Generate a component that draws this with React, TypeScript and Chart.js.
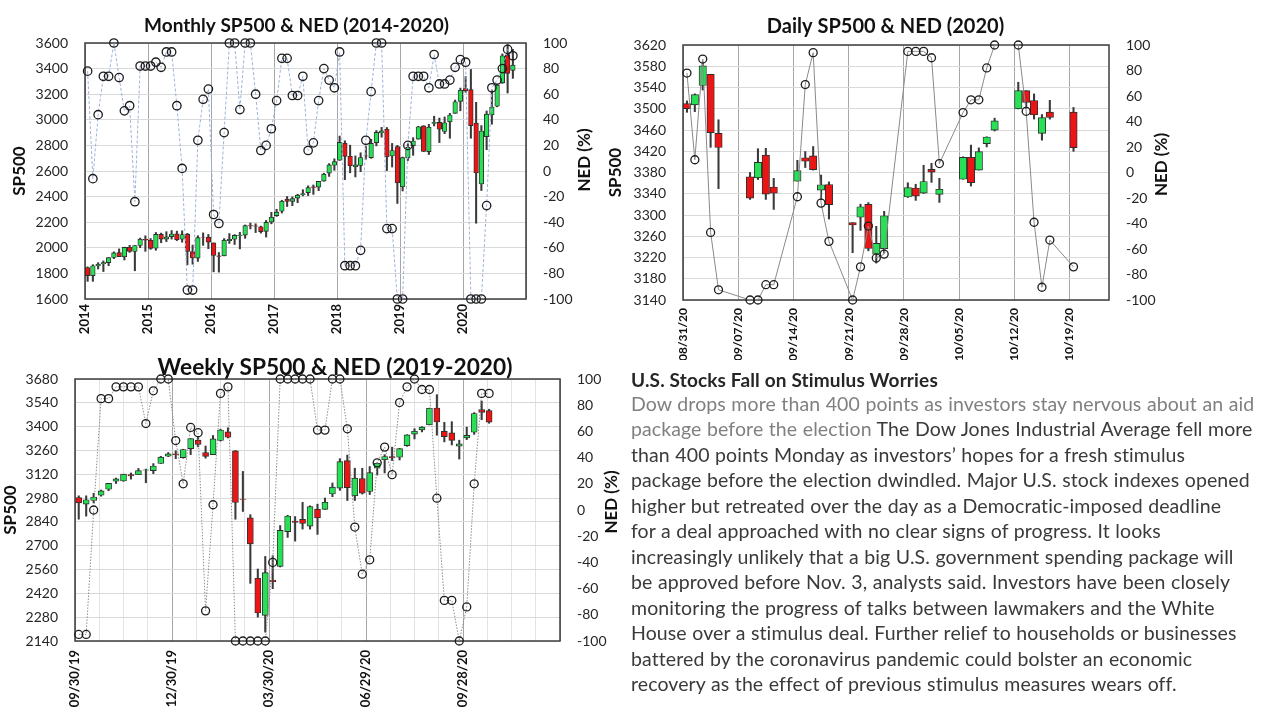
import React, { useEffect, useRef } from "react";
import { Chart, registerables } from "chart.js";

Chart.register(...registerables);

const FONT = "Lato, 'Open Sans', sans-serif";
const UP = "#27e055";
const DOWN = "#ec1515";
const EDGE = "#2e2e2e";

// ---------------- Monthly SP500 & NED (Jan 2014 - Oct 2020) ----------------
const monthlyYearLabels = ["2014", "2015", "2016", "2017", "2018", "2019", "2020"];
const monthlyOpen = [
  1845.9, 1782.7, 1857.7, 1874.0, 1884.7, 1923.9, 1962.3, 1929.8, 2004.1, 1971.4, 2018.2, 2065.8,
  2058.9, 1996.7, 2105.2, 2067.6, 2087.4, 2108.6, 2067.0, 2104.5, 1970.1, 1919.7, 2080.8, 2082.9,
  2038.2, 1936.9, 1937.1, 2056.6, 2067.2, 2093.9, 2099.3, 2173.2, 2171.3, 2164.3, 2128.7, 2200.2,
  2251.6, 2285.6, 2380.1, 2362.3, 2388.5, 2415.6, 2431.4, 2477.1, 2474.4, 2521.2, 2583.2, 2645.1,
  2683.7, 2816.5, 2715.2, 2633.5, 2643.0, 2718.7, 2705.0, 2821.2, 2897.0, 2926.3, 2717.6, 2790.5,
  2477.0, 2702.3, 2798.2, 2848.6, 2952.3, 2751.5, 2971.4, 2980.3, 2909.0, 2983.7, 3050.7, 3143.9,
  3244.7, 3235.7, 2974.3, 2498.1, 2869.1, 3038.8, 3105.9, 3288.3, 3507.4, 3385.9,
];
const monthlyHigh = [
  1850.8, 1867.9, 1884.0, 1897.3, 1924.0, 1968.2, 1991.4, 2005.0, 2019.3, 2018.2, 2075.8, 2093.6,
  2072.4, 2119.6, 2114.9, 2125.9, 2134.7, 2129.9, 2132.8, 2112.7, 2021.0, 2094.3, 2116.5, 2104.3,
  2038.2, 1963.0, 2072.2, 2111.0, 2103.5, 2120.6, 2178.3, 2193.8, 2187.9, 2169.6, 2214.1, 2277.5,
  2301.0, 2371.5, 2401.0, 2398.2, 2418.7, 2453.8, 2484.0, 2490.9, 2519.4, 2583.0, 2657.7, 2695.0,
  2872.9, 2836.0, 2801.9, 2717.5, 2742.2, 2791.5, 2848.0, 2916.5, 2940.9, 2939.9, 2815.2, 2800.2,
  2709.0, 2813.5, 2860.3, 2949.5, 2954.1, 2964.2, 3028.0, 3013.6, 3022.0, 3050.1, 3154.3, 3247.9,
  3337.8, 3393.5, 3136.7, 2954.9, 3068.7, 3233.1, 3280.0, 3514.8, 3588.1, 3549.9,
];
const monthlyLow = [
  1737.9, 1737.9, 1834.4, 1814.4, 1859.8, 1915.0, 1930.7, 1904.8, 1964.0, 1820.7, 2001.0, 1972.6,
  1988.1, 1980.9, 2039.7, 2048.4, 2067.9, 2056.3, 2044.0, 1867.0, 1871.9, 1893.7, 2019.4, 1993.3,
  1812.3, 1810.1, 1937.1, 2033.8, 2025.9, 1991.7, 2074.0, 2147.6, 2119.1, 2114.7, 2083.8, 2187.4,
  2245.1, 2271.7, 2322.3, 2329.0, 2352.7, 2405.7, 2407.7, 2417.4, 2446.6, 2520.4, 2557.5, 2605.5,
  2682.4, 2532.7, 2585.9, 2553.8, 2594.6, 2692.0, 2699.0, 2796.3, 2864.1, 2603.5, 2631.1, 2346.6,
  2444.0, 2681.8, 2722.3, 2848.6, 2750.5, 2728.8, 2952.2, 2822.1, 2891.9, 2855.9, 3050.7, 3070.3,
  3214.6, 2855.8, 2191.9, 2447.5, 2766.6, 2965.7, 3101.2, 3284.5, 3209.5, 3323.7,
];
const monthlyClose = [
  1782.6, 1859.5, 1872.3, 1884.0, 1923.6, 1960.2, 1930.7, 2003.4, 1972.3, 2018.1, 2067.6, 2058.9,
  1995.0, 2104.5, 2067.9, 2085.5, 2107.4, 2063.1, 2103.8, 1972.2, 1920.0, 2079.4, 2080.4, 2043.9,
  1940.2, 1932.2, 2059.7, 2065.3, 2097.0, 2098.9, 2173.6, 2171.0, 2168.3, 2126.2, 2198.8, 2238.8,
  2278.9, 2363.6, 2362.7, 2384.2, 2411.8, 2423.4, 2470.3, 2471.7, 2519.4, 2575.3, 2647.6, 2673.6,
  2823.8, 2713.8, 2640.9, 2648.1, 2705.3, 2718.4, 2816.3, 2901.5, 2914.0, 2711.7, 2760.2, 2506.9,
  2704.1, 2784.5, 2834.4, 2945.8, 2752.1, 2941.8, 2980.4, 2926.5, 2976.7, 3037.6, 3141.0, 3230.8,
  3225.5, 2954.2, 2584.6, 2912.4, 3044.3, 3100.3, 3271.1, 3500.3, 3363.0, 3426.9,
];
const monthlyNed = [
  78, -6, 44, 74, 74, 100, 73, 47, 51, -24, 82, 82,
  82, 85, 81, 93, 93, 51, 2, -93, -93, 24, 56, 64,
  -34, -41, 30, 100, 100, 48, 100, 100, 60, 16, 20, 33,
  55, 88, 88, 59, 59, 74, 16, 22, 55, 80, 71, 65,
  93, -74, -74, -74, -62, 24, 62, 100, 100, -45, -45, -100,
  -100, 20, 74, 74, 74, 65, 91, 68, 68, 71, 81, 87,
  85, -100, -100, -100, -27, 65, 71, 80, 95, 90,
];

// ---------------- Daily SP500 & NED (2020) ----------------
const dailyTickLabels = ["08/31/20", "09/07/20", "09/14/20", "09/21/20", "09/28/20", "10/05/20", "10/12/20", "10/19/20"];
const dailyStart = "2020-08-31";
const dailyDates = [
  "2020-08-31", "2020-09-01", "2020-09-02", "2020-09-03", "2020-09-04",
  "2020-09-08", "2020-09-09", "2020-09-10", "2020-09-11",
  "2020-09-14", "2020-09-15", "2020-09-16", "2020-09-17", "2020-09-18",
  "2020-09-21", "2020-09-22", "2020-09-23", "2020-09-24", "2020-09-25",
  "2020-09-28", "2020-09-29", "2020-09-30", "2020-10-01", "2020-10-02",
  "2020-10-05", "2020-10-06", "2020-10-07", "2020-10-08", "2020-10-09",
  "2020-10-12", "2020-10-13", "2020-10-14", "2020-10-15", "2020-10-16",
  "2020-10-19",
];
const dailyOpen = [
  3509.7, 3507.4, 3543.8, 3564.7, 3453.6, 3371.9, 3369.8, 3412.6, 3352.7, 3363.6, 3407.7, 3411.2,
  3346.9, 3357.4, 3285.6, 3295.8, 3320.1, 3226.1, 3236.7, 3333.9, 3350.9, 3341.2, 3385.9, 3338.9,
  3367.3, 3408.7, 3384.6, 3434.3, 3459.7, 3500.0, 3534.0, 3515.5, 3453.7, 3493.5, 3493.7,
];
const dailyHigh = [
  3514.8, 3528.0, 3588.1, 3564.9, 3479.2, 3380.0, 3424.8, 3425.6, 3369.0, 3402.9, 3419.5, 3428.9,
  3375.2, 3362.3, 3285.6, 3320.3, 3323.4, 3278.7, 3306.9, 3360.7, 3357.9, 3393.6, 3397.2, 3369.1,
  3409.6, 3431.6, 3426.3, 3447.3, 3482.3, 3549.9, 3534.0, 3527.9, 3489.1, 3515.8, 3502.4,
];
const dailyLow = [
  3493.3, 3494.6, 3535.2, 3427.4, 3349.6, 3329.3, 3366.8, 3329.3, 3310.5, 3363.6, 3389.3, 3384.5,
  3328.8, 3292.4, 3229.1, 3271.0, 3232.6, 3209.5, 3228.4, 3332.9, 3327.5, 3340.5, 3361.4, 3323.7,
  3367.3, 3354.5, 3384.6, 3428.2, 3458.1, 3499.6, 3500.9, 3480.6, 3440.9, 3480.5, 3419.9,
];
const dailyClose = [
  3500.3, 3526.7, 3580.8, 3455.1, 3427.0, 3331.8, 3399.0, 3339.2, 3341.0, 3383.5, 3401.2, 3385.5,
  3357.0, 3319.5, 3281.1, 3315.6, 3236.9, 3246.6, 3298.5, 3351.6, 3335.5, 3363.0, 3380.8, 3348.4,
  3408.6, 3361.0, 3419.4, 3446.8, 3477.1, 3534.2, 3511.9, 3488.7, 3483.3, 3483.8, 3426.9,
];
const dailyNed = [
  78, 10, 89, -47, -92, -100, -100, -88, -88, -19, 69, 94,
  -24, -54, -100, -74, -42, -67, -64, 95, 95, 95, 90, 7,
  47, 57, 57, 82, 100, 100, 48, -39, -90, -53, -74,
];

// ---------------- Weekly SP500 & NED (2019-2020), weeks from 09/30/19 ----------------
const weeklyTickLabels = ["09/30/19", "12/30/19", "03/30/20", "06/29/20", "09/28/20"];
const weeklyOpen = [
  2983.5, 2944.2, 2965.8, 2996.5, 3032.1, 3079.0, 3080.3, 3117.9, 3117.4, 3143.9, 3141.9, 3183.6,
  3226.0, 3240.1, 3217.6, 3271.1, 3321.0, 3247.2, 3235.7, 3318.3, 3369.0, 3257.6, 2974.3, 2863.9,
  2508.6, 2290.7, 2498.1, 2578.3, 2782.5, 2845.6, 2854.7, 2815.0, 2915.5, 2913.9, 3004.1, 3038.8,
  3199.9, 2993.8, 3094.4, 3018.6, 3155.3, 3205.1, 3224.3, 3219.8, 3288.3, 3356.0, 3380.9, 3411.1,
  3509.7, 3371.9, 3363.6, 3285.6, 3333.9, 3367.3, 3500.0, 3493.7,
];
const weeklyHigh = [
  2993.3, 2993.3, 3008.3, 3027.4, 3067.0, 3097.8, 3120.5, 3127.6, 3154.3, 3150.6, 3182.7, 3225.6,
  3247.9, 3258.1, 3267.1, 3329.9, 3337.8, 3285.9, 3348.0, 3385.1, 3393.5, 3259.8, 3136.7, 2882.6,
  2563.0, 2637.0, 2641.4, 2818.6, 2879.2, 2871.6, 2954.9, 2934.6, 2944.3, 2980.3, 3068.7, 3211.7,
  3233.1, 3155.5, 3155.5, 3165.8, 3186.8, 3235.3, 3279.3, 3272.0, 3352.5, 3387.9, 3400.0, 3509.2,
  3588.1, 3425.6, 3429.0, 3320.3, 3397.2, 3482.3, 3549.9, 3502.4,
];
const weeklyLow = [
  2856.0, 2873.9, 2952.1, 2991.2, 3023.2, 3065.9, 3078.3, 3091.4, 3117.4, 3070.3, 3123.9, 3183.6,
  3223.3, 3212.0, 3214.6, 3235.5, 3281.5, 3214.6, 3235.7, 3315.2, 3333.6, 2855.8, 2901.5, 2478.9,
  2280.5, 2191.9, 2447.5, 2575.0, 2749.0, 2727.1, 2797.9, 2797.5, 2766.6, 2913.9, 2988.2, 3025.2,
  2965.7, 2965.7, 3003.5, 3000.9, 3115.7, 3127.7, 3200.7, 3204.1, 3284.5, 3327.7, 3369.1, 3410.0,
  3349.6, 3310.5, 3292.4, 3209.5, 3323.7, 3354.5, 3440.9, 3419.9,
];
const weeklyClose = [
  2952.0, 2970.3, 2986.2, 3022.6, 3066.9, 3093.1, 3120.5, 3110.3, 3141.0, 3145.9, 3168.8, 3221.2,
  3240.0, 3234.9, 3265.4, 3329.6, 3295.5, 3225.5, 3327.7, 3380.2, 3337.8, 2954.2, 2972.4, 2711.0,
  2304.9, 2541.5, 2488.7, 2789.8, 2874.6, 2836.7, 2830.7, 2929.8, 2863.7, 2955.5, 3044.3, 3193.9,
  3041.3, 3097.7, 3009.0, 3130.0, 3185.0, 3224.7, 3215.6, 3271.1, 3351.3, 3372.9, 3397.2, 3508.0,
  3427.0, 3341.0, 3319.5, 3298.5, 3348.4, 3477.1, 3483.8, 3426.9,
];
const weeklyNed = [
  -95, -95, 0, 85, 85, 94, 94, 94, 94, 66, 91, 100,
  100, 53, 20, 63, 59, -77, 4, 89, 94, -100, -100, -100,
  -100, -100, -40, 100, 100, 100, 100, 100, 61, 61, 100, 100,
  62, -13, -49, -38, 36, 48, 27, 82, 94, 100, 92, 92,
  9, -69, -69, -100, -74, 20, 89, 89,
];

// ---------------- Article ----------------
const articleTitle = "U.S. Stocks Fall on Stimulus Worries";
const articleLines: { gray?: string; text?: string }[] = [
  { gray: "Dow drops more than 400 points as investors stay nervous about an aid" },
  { gray: "package before the election", text: " The Dow Jones Industrial Average fell more" },
  { text: "than 400 points Monday as investors\u2019 hopes for a fresh stimulus" },
  { text: "package before the election dwindled. Major U.S. stock indexes opened" },
  { text: "higher but retreated over the day as a Democratic-imposed deadline" },
  { text: "for a deal approached with no clear signs of progress. It looks" },
  { text: "increasingly unlikely that a big U.S. government spending package will" },
  { text: "be approved before Nov. 3, analysts said. Investors have been closely" },
  { text: "monitoring the progress of talks between lawmakers and the White" },
  { text: "House over a stimulus deal. Further relief to households or businesses" },
  { text: "battered by the coronavirus pandemic could bolster an economic" },
  { text: "recovery as the effect of previous stimulus measures wears off." },
];

// ---------------- helpers ----------------
const framePlugin = {
  id: "plotFrame",
  beforeDatasetsDraw(chart: any) {
    const { ctx, chartArea: a } = chart;
    ctx.save();
    ctx.strokeStyle = "#3c3c3c";
    ctx.lineWidth = 1.5;
    ctx.strokeRect(a.left, a.top, a.right - a.left, a.bottom - a.top);
    ctx.restore();
  },
};

function rightTitlePlugin(text: string, dx: number, dy: number, size: number) {
  return {
    id: "rightTitle",
    afterDraw(chart: any) {
      const { ctx, chartArea: a } = chart;
      ctx.save();
      ctx.translate(a.right + dx, (a.top + a.bottom) / 2 + dy);
      ctx.rotate(-Math.PI / 2);
      ctx.font = `bold ${size}px ${FONT}`;
      ctx.fillStyle = "#111";
      ctx.textAlign = "center";
      ctx.textBaseline = "middle";
      ctx.fillText(text, 0, 0);
      ctx.restore();
    },
  };
}

type Panel = {
  title: string;
  titleSize: number;
  titlePad: { top: number; bottom: number };
  xs: number[];
  open: number[];
  high: number[];
  low: number[];
  close: number[];
  ned: number[];
  bodyW: number;
  xMin: number;
  xMax: number;
  xStep: number;
  majorEvery: number;
  tickLabels: string[];
  xFontSize: number;
  xPad: number;
  majorGrid: string;
  minorGrid: string;
  yMin: number;
  yMax: number;
  yStep: number;
  leftW: number;
  rightW: number;
  bottomH: number;
  leftTitlePad: number;
  rightDx: number;
  rightDy: number;
  lineColor: string;
  lineDash: number[];
  pointR: number;
};

function buildConfig(p: Panel): any {
  const wicks = p.xs.map((x, i) => ({ x, y: [p.low[i], p.high[i]] }));
  const bodies = p.xs.map((x, i) => ({ x, y: [p.open[i], p.close[i]] }));
  const colors = p.xs.map((_, i) => (p.close[i] >= p.open[i] ? UP : DOWN));
  const nedPts = p.xs.map((x, i) => ({ x, y: p.ned[i] }));
  const isMajor = (v: number) => Math.abs(v / p.majorEvery - Math.round(v / p.majorEvery)) < 1e-6;
  return {
    type: "bar",
    data: {
      datasets: [
        {
          type: "line",
          data: nedPts,
          yAxisID: "y1",
          xAxisID: "x",
          borderColor: p.lineColor,
          borderWidth: 1,
          borderDash: p.lineDash,
          pointRadius: p.pointR,
          pointBorderWidth: 1.3,
          pointBorderColor: "#1c1c1c",
          pointBackgroundColor: "rgba(0,0,0,0)",
          tension: 0,
          clip: false,
          order: 0,
        },
        {
          data: bodies,
          yAxisID: "y",
          backgroundColor: colors,
          borderColor: EDGE,
          borderWidth: 0.9,
          borderSkipped: false,
          barThickness: p.bodyW,
          grouped: false,
          order: 1,
        },
        {
          data: wicks,
          yAxisID: "y",
          backgroundColor: "#3a3a3a",
          borderWidth: 0,
          barThickness: 1.4,
          grouped: false,
          order: 2,
        },
      ],
    },
    options: {
      responsive: false,
      animation: false,
      devicePixelRatio: 1,
      events: [],
      layout: { padding: 0 },
      plugins: {
        legend: { display: false },
        tooltip: { enabled: false },
        title: {
          display: true,
          text: p.title,
          color: "#111",
          font: { size: p.titleSize, weight: "bold", family: FONT },
          padding: p.titlePad,
        },
      },
      scales: {
        x: {
          type: "linear",
          min: p.xMin,
          max: p.xMax,
          offset: false,
          grid: {
            offset: false,
            drawTicks: false,
            color: (c: any) => (c.tick && isMajor(c.tick.value) ? p.majorGrid : p.minorGrid),
            lineWidth: 1,
          },
          border: { display: false },
          ticks: {
            stepSize: p.xStep,
            autoSkip: false,
            includeBounds: false,
            maxRotation: 90,
            minRotation: 90,
            padding: p.xPad,
            color: "#111",
            font: { size: p.xFontSize, weight: "bold", family: FONT },
            callback: (v: number) => {
              if (!isMajor(v)) return "";
              return p.tickLabels[Math.round(v / p.majorEvery)] ?? "";
            },
          },
          afterFit: (s: any) => {
            s.height = p.bottomH;
          },
        },
        y: {
          type: "linear",
          position: "left",
          min: p.yMin,
          max: p.yMax,
          grid: { color: "#d9d9d9", drawTicks: false },
          border: { display: false },
          ticks: {
            stepSize: p.yStep,
            padding: 17,
            color: "#262626",
            font: { size: 14, family: FONT },
            callback: (v: number) => String(v),
          },
          title: {
            display: true,
            text: "SP500",
            color: "#111",
            font: { size: 17, weight: "bold", family: FONT },
            padding: { top: p.leftTitlePad, bottom: 0 },
          },
          afterFit: (s: any) => {
            s.width = p.leftW;
          },
        },
        y1: {
          type: "linear",
          position: "right",
          min: -100,
          max: 100,
          grid: { drawOnChartArea: false, drawTicks: false },
          border: { display: false },
          ticks: {
            stepSize: 20,
            padding: 17,
            color: "#262626",
            font: { size: 14, family: FONT },
            callback: (v: number) => String(v),
          },
          afterFit: (s: any) => {
            s.width = p.rightW;
          },
        },
      },
    },
    plugins: [framePlugin, rightTitlePlugin("NED (%)", p.rightDx, p.rightDy, 17)],
  };
}

function CandleChart({ panel, left, top, width, height }: { panel: Panel; left: number; top: number; width: number; height: number }) {
  const ref = useRef<HTMLCanvasElement | null>(null);
  useEffect(() => {
    if (!ref.current) return;
    const chart = new Chart(ref.current, buildConfig(panel));
    return () => chart.destroy();
  }, [panel]);
  return (
    <canvas
      ref={ref}
      width={width}
      height={height}
      style={{ position: "absolute", left, top, width, height }}
    />
  );
}

const DAY = 86400000;
const monthlyPanel: Panel = {
  title: "Monthly SP500 & NED (2014-2020)",
  titleSize: 19,
  titlePad: { top: 14.2, bottom: 6 },
  xs: monthlyOpen.map((_, i) => i + 0.5),
  open: monthlyOpen,
  high: monthlyHigh,
  low: monthlyLow,
  close: monthlyClose,
  ned: monthlyNed,
  bodyW: 4.6,
  xMin: 0,
  xMax: 84,
  xStep: 12,
  majorEvery: 12,
  tickLabels: monthlyYearLabels,
  xFontSize: 13,
  xPad: 5,
  majorGrid: "#a6a6a6",
  minorGrid: "#a6a6a6",
  yMin: 1600,
  yMax: 3600,
  yStep: 200,
  leftW: 85,
  rightW: 67,
  bottomH: 46,
  leftTitlePad: 9.5,
  rightDx: 59,
  rightDy: -11,
  lineColor: "#9db3d9",
  lineDash: [3, 2],
  pointR: 4.2,
};

const dailyPanel: Panel = {
  title: "Daily SP500 & NED (2020)",
  titleSize: 20,
  titlePad: { top: 14.6, bottom: 6.4 },
  xs: dailyDates.map((d) => (Date.parse(d) - Date.parse(dailyStart)) / DAY + 0.5),
  open: dailyOpen,
  high: dailyHigh,
  low: dailyLow,
  close: dailyClose,
  ned: dailyNed,
  bodyW: 7.4,
  xMin: 0,
  xMax: 54,
  xStep: 7,
  majorEvery: 7,
  tickLabels: dailyTickLabels,
  xFontSize: 12,
  xPad: 8,
  majorGrid: "#a6a6a6",
  minorGrid: "#a6a6a6",
  yMin: 3140,
  yMax: 3620,
  yStep: 40,
  leftW: 87,
  rightW: 66,
  bottomH: 60,
  leftTitlePad: 9.8,
  rightDx: 53,
  rightDy: -8,
  lineColor: "#8a8a8a",
  lineDash: [],
  pointR: 4,
};

const weeklyPanel: Panel = {
  title: "Weekly SP500 & NED (2019-2020)",
  titleSize: 22.7,
  titlePad: { top: 9.5, bottom: -2.74 },
  xs: weeklyOpen.map((_, i) => i + 0.5),
  open: weeklyOpen,
  high: weeklyHigh,
  low: weeklyLow,
  close: weeklyClose,
  ned: weeklyNed,
  bodyW: 6,
  xMin: 0,
  xMax: 65,
  xStep: 3.25,
  majorEvery: 13,
  tickLabels: weeklyTickLabels,
  xFontSize: 13,
  xPad: 9,
  majorGrid: "#a6a6a6",
  minorGrid: "#e3e3e3",
  yMin: 2140,
  yMax: 3680,
  yStep: 140,
  leftW: 75,
  rightW: 110,
  bottomH: 74,
  leftTitlePad: 0.8,
  rightDx: 52,
  rightDy: -8,
  lineColor: "#8c8c8c",
  lineDash: [1.5, 1.5],
  pointR: 4,
};

export default function App() {
  return (
    <div
      style={{
        position: "absolute",
        left: 0,
        top: 0,
        width: 1280,
        height: 720,
        background: "#fff",
        overflow: "hidden",
        fontFamily: FONT,
      }}
    >
      <CandleChart panel={monthlyPanel} left={0} top={0} width={593} height={345} />
      <CandleChart panel={dailyPanel} left={596} top={0} width={579} height={360} />
      <CandleChart panel={weeklyPanel} left={0} top={345} width={670} height={370} />
      <div style={{ position: "absolute", left: 631, top: 367.5, width: 645, zIndex: 2 }}>
        <div
          style={{
            fontWeight: "bold",
            fontSize: 19,
            letterSpacing: 0.15,
            lineHeight: "23px",
            color: "#262626",
            whiteSpace: "nowrap",
          }}
        >
          {articleTitle}
        </div>
        <div
          style={{
            fontSize: 19.5,
            letterSpacing: 0.1,
            wordSpacing: 0.4,
            lineHeight: "25.45px",
            color: "#3a3a3a",
            marginTop: 0.5,
          }}
        >
          {articleLines.map((l, i) => (
            <div key={i} style={{ whiteSpace: "nowrap" }}>
              {l.gray ? <span style={{ color: "#808080" }}>{l.gray}</span> : null}
              {l.text ? <span>{l.text}</span> : null}
            </div>
          ))}
        </div>
      </div>
    </div>
  );
}
